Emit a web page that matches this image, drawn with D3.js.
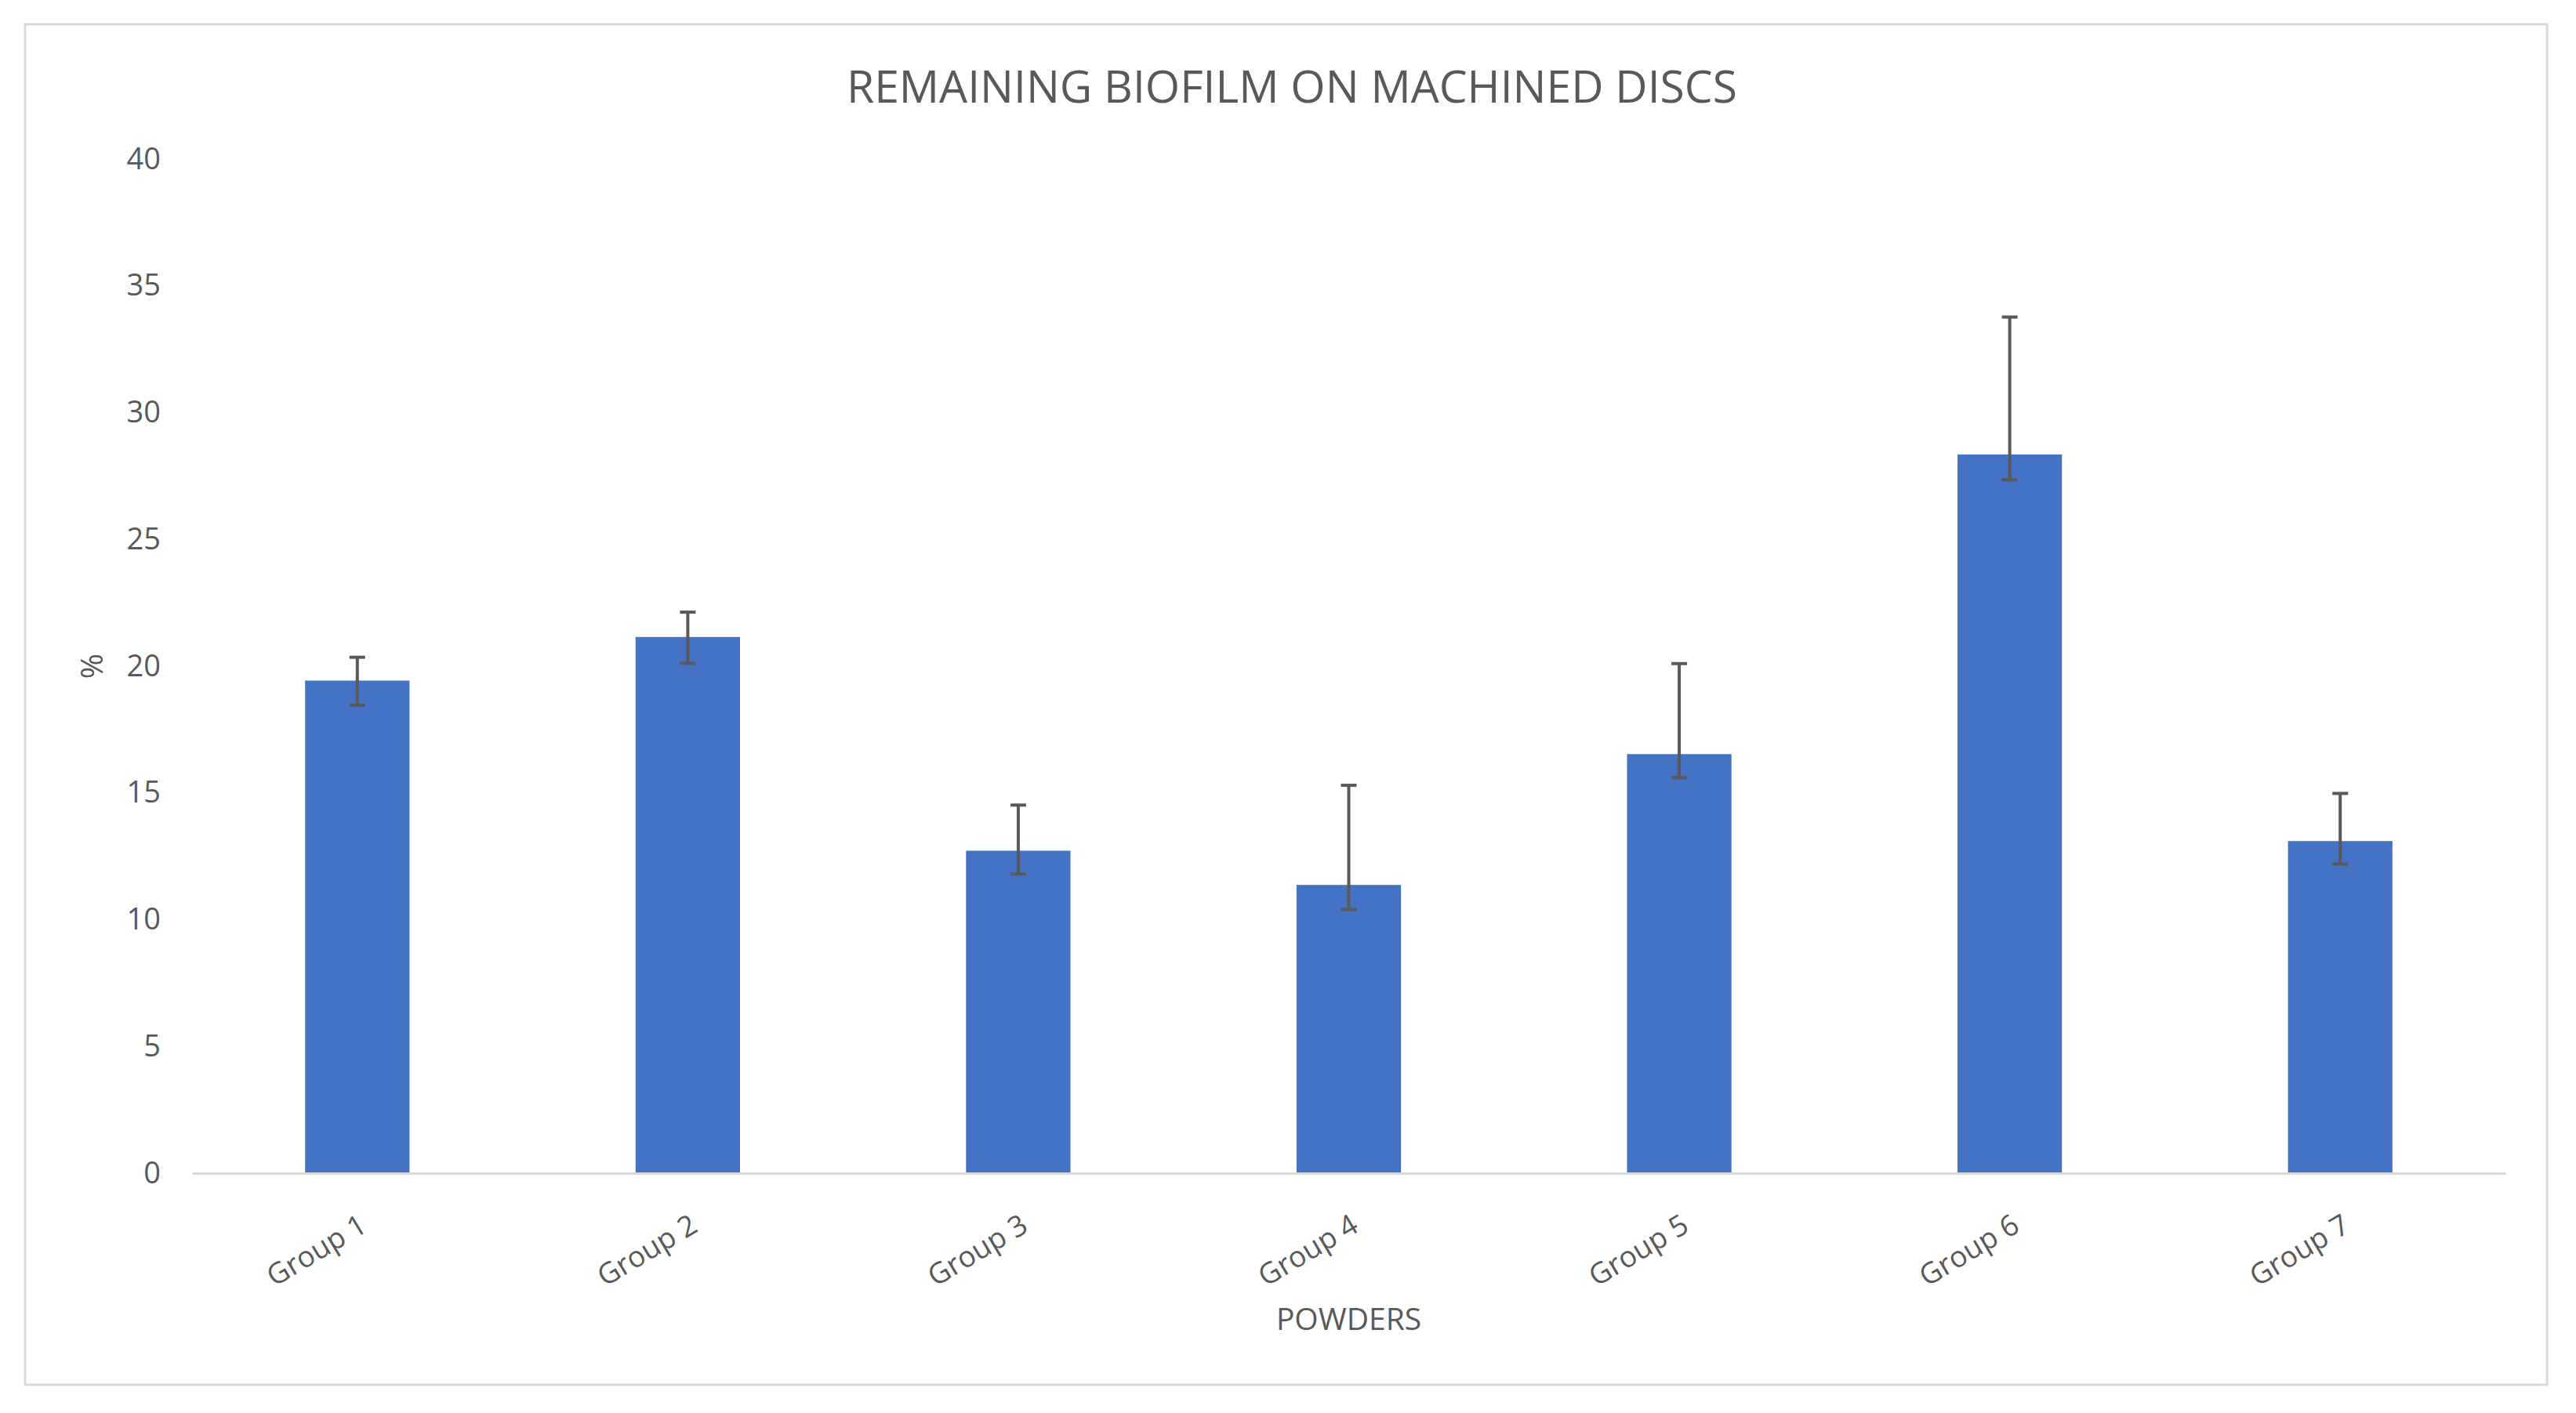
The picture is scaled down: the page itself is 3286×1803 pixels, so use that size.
<!DOCTYPE html>
<html>
<head>
<meta charset="utf-8">
<script src="https://cdn.jsdelivr.net/npm/d3@7"></script>
<style>
    body { margin: 0; background: #fff; }
    svg text { font-family: "Open Sans", sans-serif; fill: #595959; }
</style>
</head>
<body>
<div id="chart"></div>
<script>
// values
const groups = ["Group 1", "Group 2", "Group 3", "Group 4", "Group 5", "Group 6", "Group 7"];
const means = [19.43, 21.15, 12.72, 11.37, 16.53, 28.35, 13.1];
const errUp = [0.92, 0.98, 1.8, 3.93, 3.57, 5.42, 1.88];
const errDown = [0.97, 1.04, 0.92, 0.97, 0.93, 1.0, 0.91];
const yTicks = [0, 5, 10, 15, 20, 25, 30, 35, 40];

const title = "REMAINING BIOFILM ON MACHINED DISCS";
const xTitle = "POWDERS";
const yTitle = "%";

const width = 3286, height = 1803;
const padding = { l: 245, r: 90, t: 203, b: 306 };

const rows = groups.map((name, i) => ({
    name,
    value: means[i],
    hi: means[i] + errUp[i],
    lo: means[i] - errDown[i]
}));

const x = d3.scaleBand()
    .domain(groups)
    .range([ padding.l, width - padding.r ])
    .paddingInner(0.684)
    .paddingOuter(0.342);

const y = d3.scaleLinear()
    .domain([ 0, 40 ])
    .range([ height - padding.b, padding.t ]);

const svg = d3.select("#chart")
    .append("svg")
    .attr("width", width)
    .attr("height", height)
    .attr("viewBox", `0 0 ${width} ${height}`);

// chart area frame
svg.append("rect")
    .attr("x", 32)
    .attr("y", 31)
    .attr("width", 3249 - 32)
    .attr("height", 1767 - 31)
    .attr("fill", "#fff")
    .attr("stroke", "#d9d9d9")
    .attr("stroke-width", 3);

svg.append("text")
    .attr("x", 1648)
    .attr("y", 131)
    .attr("text-anchor", "middle")
    .style("font-size", "57px")
    .text(title);

// y axis, labels only
const yAxis = d3.axisLeft(y)
    .tickValues(yTicks)
    .tickSize(0)
    .tickPadding(0);

svg.append("g")
    .attr("transform", `translate(205, 0)`)
    .call(yAxis)
    .call(g => g.select(".domain").remove())
    .call(g => g.selectAll("text")
        .attr("fill", "#595959")
        .style("font-size", "38px")
        .style("font-family", "\"Open Sans\", sans-serif"));

svg.selectAll(".bar")
    .data(rows)
    .enter()
    .append("rect")
    .attr("class", "bar")
    .attr("x", d => x(d.name))
    .attr("y", d => y(d.value))
    .attr("width", x.bandwidth())
    .attr("height", d => y(0) - y(d.value))
    .attr("fill", "#4472c4");

// x axis line + rotated category labels
const xAxis = d3.axisBottom(x)
    .tickSize(0)
    .tickSizeOuter(0);

svg.append("g")
    .attr("transform", `translate(0, ${y(0)})`)
    .call(xAxis)
    .call(g => g.select(".domain")
        .attr("stroke", "#d9d9d9")
        .attr("stroke-width", 3))
    .call(g => g.selectAll(".tick text")
        .attr("fill", "#595959")
        .attr("text-anchor", "end")
        .attr("dy", "0.35em")
        .attr("y", 0)
        .attr("transform", "translate(8, 62) rotate(-31)")
        .style("font-size", "37px")
        .style("font-family", "\"Open Sans\", sans-serif"));

// error bars
const cap = 10;
const err = svg.append("g")
    .attr("stroke", "#595959")
    .attr("stroke-width", 4)
    .selectAll("g")
    .data(rows)
    .enter()
    .append("g")
    .attr("transform", d => `translate(${x(d.name) + x.bandwidth() / 2}, 0)`);

err.append("line")
    .attr("y1", d => y(d.hi))
    .attr("y2", d => y(d.lo));

err.append("line")
    .attr("x1", -cap)
    .attr("x2", cap)
    .attr("y1", d => y(d.hi))
    .attr("y2", d => y(d.hi));

err.append("line")
    .attr("x1", -cap)
    .attr("x2", cap)
    .attr("y1", d => y(d.lo))
    .attr("y2", d => y(d.lo));

svg.append("text")
    .attr("x", (padding.l + width - padding.r) / 2)
    .attr("y", 1697)
    .attr("text-anchor", "middle")
    .style("font-size", "39px")
    .text(xTitle);

svg.append("text")
    .attr("transform", `translate(131, ${y(20)}) rotate(-90)`)
    .attr("text-anchor", "middle")
    .style("font-size", "39px")
    .text(yTitle);
</script>
</body>
</html>
